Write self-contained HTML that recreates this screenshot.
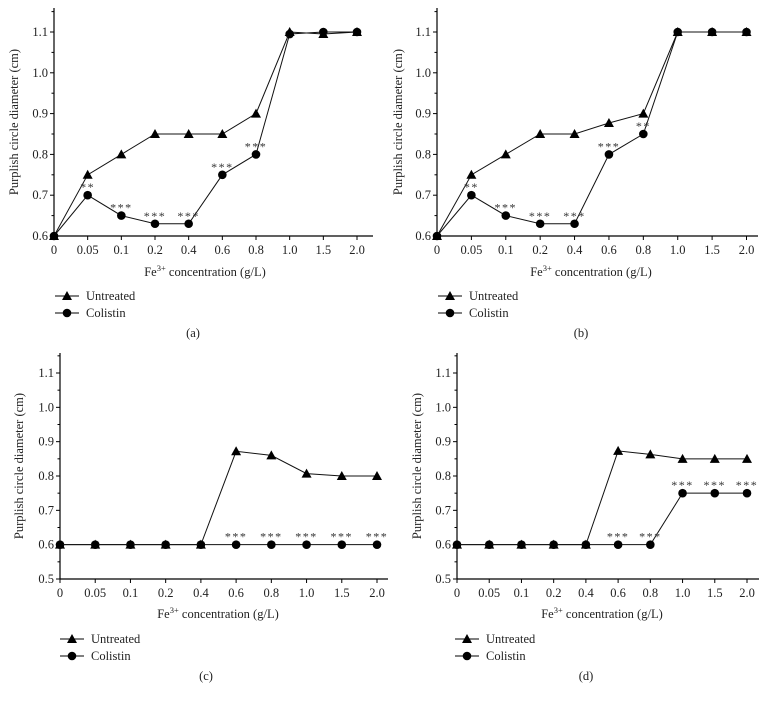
<!DOCTYPE html>
<html><head><meta charset="utf-8"><style>
html,body{margin:0;padding:0;background:#fff;}
svg{display:block;font-family:"Liberation Serif",serif;}
</style></head><body>
<svg id="fig" width="772" height="704" viewBox="0 0 772 704" xmlns="http://www.w3.org/2000/svg"></svg>
<script>
const categories = ["0","0.05","0.1","0.2","0.4","0.6","0.8","1.0","1.5","2.0"];
const aUntreated = [0.6,0.75,0.8,0.85,0.85,0.85,0.9,1.1,1.095,1.1];
const aColistin = [0.6,0.7,0.65,0.63,0.63,0.75,0.8,1.095,1.1,1.1];
const aStars = ["","**","***","***","***","***","***","","",""];
const bUntreated = [0.6,0.75,0.8,0.85,0.85,0.877,0.9,1.1,1.1,1.1];
const bColistin = [0.6,0.7,0.65,0.63,0.63,0.8,0.85,1.1,1.1,1.1];
const bStars = ["","**","***","***","***","***","**","","",""];
const cUntreated = [0.6,0.6,0.6,0.6,0.6,0.872,0.86,0.807,0.8,0.8];
const cColistin = [0.6,0.6,0.6,0.6,0.6,0.6,0.6,0.6,0.6,0.6];
const cStars = ["","","","","","***","***","***","***","***"];
const dUntreated = [0.6,0.6,0.6,0.6,0.6,0.873,0.863,0.85,0.85,0.85];
const dColistin = [0.6,0.6,0.6,0.6,0.6,0.6,0.6,0.75,0.75,0.75];
const dStars = ["","","","","","***","***","***","***","***"];
const yTicksAB = ["0.6","0.7","0.8","0.9","1.0","1.1"];
const yTicksCD = ["0.5","0.6","0.7","0.8","0.9","1.0","1.1"];

const NS="http://www.w3.org/2000/svg";
const svg=document.getElementById('fig');
const FS=12.5;
function mk(tag,attrs,parent,text){const e=document.createElementNS(NS,tag);for(const k in attrs)e.setAttribute(k,attrs[k]);if(text!==undefined)e.textContent=text;(parent||svg).appendChild(e);return e;}

function panel(p){
  const g=mk('g',{});
  
  
  const yMin=parseFloat(p.yTicks[0]);
  const yMax=parseFloat(p.yTicks[p.yTicks.length-1]);
  const X=i=>p.x0+(p.x1-p.x0)*i/(categories.length-1);
  const Y=v=>p.yb+(p.yt-p.yb)*(v-yMin)/(yMax-yMin);
  const ya=mk('line',{x1:p.x0,y1:p.top,x2:p.x0,y2:p.yb,stroke:'#000','stroke-width':1.2},g);
  
  const xa=mk('line',{x1:p.x0,y1:p.yb,x2:p.right,y2:p.yb,stroke:'#000','stroke-width':1.2},g);
  
  for(let k=0;k<p.yTicks.length;k++){
    const v=parseFloat(p.yTicks[k]);const y=Y(v);
    mk('line',{x1:p.x0-4,y1:y,x2:p.x0,y2:y,stroke:'#000'},g);
    const t=mk('text',{x:p.x0-6,y:y+4,'text-anchor':'end','font-size':FS,fill:'#222'},g,p.yTicks[k]);
    
  }
  for(let v=yMin+0.05;v<yMax+0.1;v+=0.1){const y=Y(v);if(y<p.top)break;mk('line',{x1:p.x0-2.5,y1:y,x2:p.x0,y2:y,stroke:'#000'},g);}
  categories.forEach((c,i)=>{const x=X(i);
    mk('line',{x1:x,y1:p.yb,x2:x,y2:p.yb+4,stroke:'#000'},g);
    const t=mk('text',{x:x,y:p.yb+18,'text-anchor':'middle','font-size':FS,fill:'#222'},g,c);
    
  });
  const yl=mk('text',{x:0,y:0,'text-anchor':'middle','font-size':FS,fill:'#222',transform:`translate(${p.ylx},${(p.top+p.yb)/2}) rotate(-90)`},g,'Purplish circle diameter (cm)');
  
  const xl=mk('text',{x:p.xlx,y:p.xly,'text-anchor':'middle','font-size':FS,fill:'#222'},g);
  
  mk('tspan',{},xl,'Fe');mk('tspan',{dy:-5,'font-size':8.5},xl,'3+');mk('tspan',{dy:5},xl,' concentration (g/L)');
  function series(vals,name,marker){
    const pts=vals.map((v,i)=>X(i)+','+Y(v)).join(' ');
    const l=mk('polyline',{points:pts,fill:'none',stroke:'#111','stroke-width':1},g);
    
    vals.forEach((v,i)=>{const x=X(i),y=Y(v);let m;
      if(marker==='tri')m=mk('polygon',{points:`${x},${y-5} ${x-5},${y+4} ${x+5},${y+4}`,fill:'#000'},g);
      else m=mk('circle',{cx:x,cy:y,r:4.3,fill:'#000'},g);
      
    });
  }
  series(p.col,'colistin','circ');
  series(p.unt,'untreated','tri');
  p.stars.forEach((s,i)=>{if(!s)return;
    const t=mk('text',{x:X(i),y:Y(p.col[i])-4,'text-anchor':'middle','font-size':12,fill:'#333','letter-spacing':'1.5'},g,s);
    
  });
  const lg=mk('g',{},g);
  const e1=mk('g',{},lg);
  mk('line',{x1:p.lx,y1:p.ly,x2:p.lx+24,y2:p.ly,stroke:'#000'},e1);
  const mx=p.lx+12;mk('polygon',{points:`${mx},${p.ly-5} ${mx-5},${p.ly+4} ${mx+5},${p.ly+4}`},e1);
  mk('text',{x:p.lx+31,y:p.ly+4,'font-size':FS,fill:'#222'},e1,'Untreated');
  const e2=mk('g',{},lg);
  mk('line',{x1:p.lx,y1:p.ly+17,x2:p.lx+24,y2:p.ly+17,stroke:'#000'},e2);
  mk('circle',{cx:mx,cy:p.ly+17,r:4.3},e2);
  mk('text',{x:p.lx+31,y:p.ly+21,'font-size':FS,fill:'#222'},e2,'Colistin');
  const cap=mk('text',{x:p.capx,y:p.capy,'text-anchor':'middle','font-size':FS,fill:'#222'},g,'('+p.id+')');
  
}
panel({id:'a',x0:54,x1:357,right:373,top:8,yb:236,yt:32,yTicks:yTicksAB,unt:aUntreated,col:aColistin,stars:aStars,ylx:18,xlx:205,xly:276,lx:55,ly:296,capx:193,capy:337});
panel({id:'b',x0:437,x1:746.5,right:758,top:8,yb:236,yt:32,yTicks:yTicksAB,unt:bUntreated,col:bColistin,stars:bStars,ylx:402,xlx:591,xly:276,lx:438,ly:296,capx:581,capy:337});
panel({id:'c',x0:60,x1:377,right:388,top:353,yb:579,yt:373,yTicks:yTicksCD,unt:cUntreated,col:cColistin,stars:cStars,ylx:23,xlx:218,xly:618,lx:60,ly:639,capx:206,capy:680});
panel({id:'d',x0:457,x1:747,right:759,top:353,yb:579,yt:373,yTicks:yTicksCD,unt:dUntreated,col:dColistin,stars:dStars,ylx:421,xlx:602,xly:618,lx:455,ly:639,capx:586,capy:680});
</script>
</body></html>
